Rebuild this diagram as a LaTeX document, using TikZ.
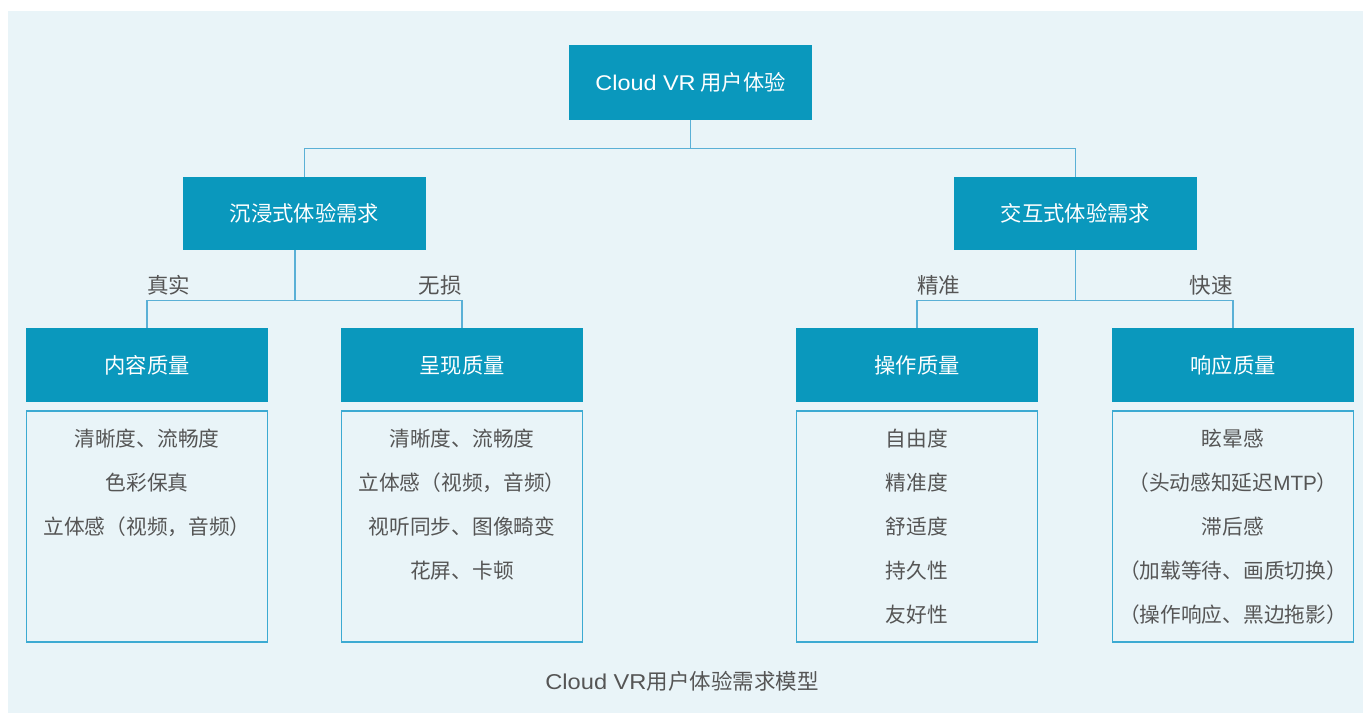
\documentclass[tikz,border=0pt]{standalone}
\usepackage{fontspec}
\setmainfont{Noto Sans CJK SC}
\newfontfamily\latinwide[FakeStretch=1.1]{Liberation Sans}
\newfontfamily\latin{Liberation Sans}
\definecolor{panel}{RGB}{233,244,248}
\definecolor{boxblue}{RGB}{10,152,189}
\definecolor{edgeblue}{RGB}{60,170,210}
\definecolor{linkblue}{RGB}{90,176,214}
\definecolor{textgray}{RGB}{85,85,85}
\tikzset{
  headbox/.style={fill=boxblue, draw=none, text=white, inner sep=0pt,
    minimum width=242pt, minimum height=74pt, font=\fontsize{21.3pt}{25pt}\selectfont},
  listbox/.style={draw=edgeblue, line width=1.6pt, fill=none, inner sep=0pt,
    minimum width=241pt, minimum height=231pt},
  listtext/.style={text=textgray, align=center, inner sep=0pt, anchor=north,
    font=\fontsize{20.7pt}{44pt}\selectfont},
  link/.style={draw=linkblue, line width=1.3pt},
  branchlabel/.style={text=textgray, inner sep=0pt, font=\fontsize{21.5pt}{25pt}\selectfont}
}
\begin{document}
\begin{tikzpicture}[x=1pt,y=-1pt]
\useasboundingbox (0,0) rectangle (1363,713);
\fill[white] (0,0) rectangle (1363,713);
\fill[panel] (8,11) rectangle (1363,713);

% root and the two requirement groups
\node[headbox, minimum width=243pt, minimum height=75pt] (root) at (690.5,82.5) {{\latinwide Cloud VR} 用户体验};
\node[headbox, minimum width=243pt, minimum height=73pt] (imm) at (304.5,213.5) {沉浸式体验需求};
\node[headbox, minimum width=243pt, minimum height=73pt] (inter) at (1075.5,213.5) {交互式体验需求};

% quality categories
\node[headbox] (c1) at (147,365) {内容质量};
\node[headbox] (c2) at (462,365) {呈现质量};
\node[headbox] (c3) at (917,365) {操作质量};
\node[headbox] (c4) at (1233,365) {响应质量};

% detail panels
\node[listbox] (d1) at (147,526.5) {};
\node[listbox] (d2) at (462,526.5) {};
\node[listbox] (d3) at (917,526.5) {};
\node[listbox] (d4) at (1233,526.5) {};

\node[listtext] (t1) at ([yshift=-19pt]d1.north) {清晰度、流畅度\\色彩保真\\立体感（视频，音频）};
\node[listtext] (t2) at ([yshift=-19pt]d2.north) {清晰度、流畅度\\立体感（视频，音频）\\视听同步、图像畸变\\花屏、卡顿};
\node[listtext] (t3) at ([yshift=-19pt]d3.north) {自由度\\精准度\\舒适度\\持久性\\友好性};
\node[listtext] (t4) at ([yshift=-19pt]d4.north) {眩晕感\\（头动感知延迟{\latin MTP}）\\滞后感\\（加载等待、画质切换）\\（操作响应、黑边拖影）};

% tree connectors
\draw[link] (root.south) -- ++(0,28) coordinate (s0) -| (imm.north);
\draw[link] (s0) -| (inter.north);

\coordinate (s1) at ([xshift=-9.5pt]imm.south);
\draw[link] (s1) -- ++(0,50) coordinate (j1);
\draw[link] (c1.north) |- (j1) -| (c2.north);

\draw[link] (inter.south) -- ++(0,50) coordinate (j2);
\draw[link] (c3.north) |- (j2) -| (c4.north);

% branch labels
\node[branchlabel, anchor=base west] (l1) at ([yshift=7pt]c1.north |- j1) {真实};
\node[branchlabel, anchor=base east] (l2) at ([yshift=7pt]c2.north |- j1) {无损};
\node[branchlabel, anchor=base west] (l3) at ([yshift=7pt]c3.north |- j2) {精准};
\node[branchlabel, anchor=base east] (l4) at ([yshift=7pt]c4.north |- j2) {快速};

% caption
\node[text=textgray, inner sep=0pt, font=\fontsize{21.5pt}{25pt}\selectfont] (cap) at (682,681) {{\latinwide Cloud VR}用户体验需求模型};
\end{tikzpicture}
\end{document}
